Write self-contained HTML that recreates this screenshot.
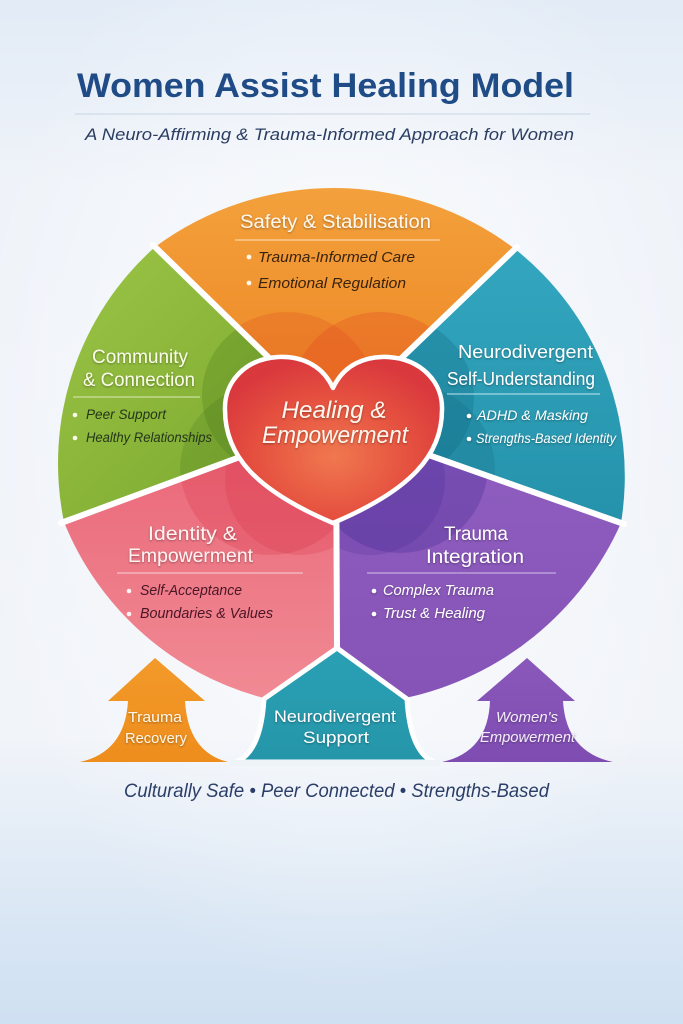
<!DOCTYPE html>
<html><head><meta charset="utf-8"><style>
html,body{margin:0;padding:0;background:#eef3f9;}
svg{display:block;}
text{font-family:"Liberation Sans",sans-serif;}
</style></head><body>
<svg width="683" height="1024" viewBox="0 0 683 1024" xmlns="http://www.w3.org/2000/svg">
<defs>
<linearGradient id="bg" x1="0" y1="0" x2="0" y2="1">
<stop offset="0" stop-color="#e2ebf6"/>
<stop offset="0.18" stop-color="#eff3f9"/>
<stop offset="0.72" stop-color="#f1f4f9"/>
<stop offset="0.8" stop-color="#e6eef7"/>
<stop offset="0.9" stop-color="#d9e6f4"/>
<stop offset="1" stop-color="#cfe0f2"/>
</linearGradient>
<radialGradient id="glow" cx="0.5" cy="0.42" r="0.55">
<stop offset="0" stop-color="#ffffff" stop-opacity="0.75"/>
<stop offset="1" stop-color="#ffffff" stop-opacity="0"/>
</radialGradient>
<linearGradient id="gO" x1="0" y1="0" x2="0" y2="1"><stop offset="0" stop-color="#f3a13c"/><stop offset="1" stop-color="#ec8422"/></linearGradient>
<linearGradient id="gG" x1="0" y1="0" x2="1" y2="1"><stop offset="0" stop-color="#9cc546"/><stop offset="1" stop-color="#76a42c"/></linearGradient>
<linearGradient id="gT" x1="0" y1="0" x2="0" y2="1"><stop offset="0" stop-color="#33a6bf"/><stop offset="1" stop-color="#2592ab"/></linearGradient>
<linearGradient id="gP" x1="0" y1="0" x2="0" y2="1"><stop offset="0" stop-color="#8f5fc0"/><stop offset="1" stop-color="#8653b6"/></linearGradient>
<linearGradient id="gK" x1="0" y1="0" x2="0" y2="1"><stop offset="0" stop-color="#ea6577"/><stop offset="1" stop-color="#f08a94"/></linearGradient>
<radialGradient id="gH" cx="0.5" cy="0.6" r="0.6"><stop offset="0" stop-color="#f0784f"/><stop offset="0.6" stop-color="#e5503f"/><stop offset="1" stop-color="#d9383d"/></radialGradient>
<linearGradient id="gAO" x1="0" y1="0" x2="0" y2="1"><stop offset="0" stop-color="#f29a2a"/><stop offset="1" stop-color="#ee8d1c"/></linearGradient>
<linearGradient id="gAT" x1="0" y1="0" x2="0" y2="1"><stop offset="0" stop-color="#2aa0b4"/><stop offset="1" stop-color="#2596aa"/></linearGradient>
<linearGradient id="gAP" x1="0" y1="0" x2="0" y2="1"><stop offset="0" stop-color="#8a57ba"/><stop offset="1" stop-color="#7f4db2"/></linearGradient>
<clipPath id="cO"><path d="M335 422 L155 247 A300 300 0 0 1 515 249 Z"/></clipPath>
<clipPath id="cT"><path d="M335 422 L515 249 A290 290 0 0 1 621 523 Z"/></clipPath>
<clipPath id="cP"><path d="M335 422 L621 523 A306 306 0 0 1 405 698 L337 649 Z"/></clipPath>
<clipPath id="cK"><path d="M335 422 L337 649 L264 698 A296 296 0 0 1 64 522 Z"/></clipPath>
<clipPath id="cG"><path d="M335 422 L64 522 A290 290 0 0 1 155 247 Z"/></clipPath>
<filter id="sh" x="-10%" y="-30%" width="120%" height="160%"><feDropShadow dx="0" dy="1" stdDeviation="1" flood-color="#000" flood-opacity="0.35"/></filter>
</defs>

<rect width="683" height="1024" fill="url(#bg)"/>
<rect width="683" height="1024" fill="url(#glow)"/>

<!-- Title -->
<text x="325.5" y="97" text-anchor="middle" font-size="34" font-weight="bold" fill="#1f4b86" textLength="497" lengthAdjust="spacingAndGlyphs">Women Assist Healing Model</text>
<line x1="75" y1="114" x2="590" y2="114" stroke="#c9d4e2" stroke-width="1"/>
<text x="329.5" y="140" text-anchor="middle" font-size="17" font-style="italic" fill="#2b3e62" textLength="489" lengthAdjust="spacingAndGlyphs">A Neuro-Affirming &amp; Trauma-Informed Approach for Women</text>

<!-- Segments -->
<path d="M335 422 L155 247 A300 300 0 0 1 515 249 Z" fill="url(#gO)"/>
<path d="M335 422 L515 249 A290 290 0 0 1 621 523 Z" fill="url(#gT)"/>
<path d="M335 422 L621 523 A306 306 0 0 1 405 698 L337 649 Z" fill="url(#gP)"/>
<path d="M335 422 L337 649 L264 698 A296 296 0 0 1 64 522 Z" fill="url(#gK)"/>
<path d="M335 422 L64 522 A290 290 0 0 1 155 247 Z" fill="url(#gG)"/>

<!-- overlay circles -->
<g clip-path="url(#cO)">
<circle cx="287" cy="402" r="90" fill="#e2501f" opacity="0.28"/>
<circle cx="380" cy="402" r="90" fill="#e2401f" opacity="0.28"/>
</g>
<g clip-path="url(#cG)">
<circle cx="282" cy="395" r="80" fill="#4f7f1c" opacity="0.3"/>
<circle cx="265" cy="470" r="85" fill="#3f6d18" opacity="0.2"/>
</g>
<g clip-path="url(#cT)">
<circle cx="392" cy="398" r="82" fill="#116a86" opacity="0.3"/>
<circle cx="410" cy="470" r="85" fill="#0f6079" opacity="0.2"/>
</g>
<g clip-path="url(#cK)">
<circle cx="270" cy="465" r="90" fill="#d83043" opacity="0.25"/>
<circle cx="300" cy="480" r="75" fill="#d82a3a" opacity="0.2"/>
</g>
<g clip-path="url(#cP)">
<circle cx="400" cy="465" r="88" fill="#3d2390" opacity="0.28"/>
<circle cx="370" cy="480" r="75" fill="#3d2390" opacity="0.18"/>
</g>

<!-- dividers -->
<g stroke="#ffffff" stroke-width="6" stroke-linecap="round" fill="none">
<line x1="335" y1="422" x2="153" y2="245"/>
<line x1="335" y1="422" x2="517" y2="247"/>
<line x1="335" y1="422" x2="624" y2="524"/>
<line x1="335" y1="422" x2="61" y2="523"/>
<line x1="336" y1="422" x2="337" y2="650"/>
</g>

<!-- Heart -->
<path d="M333 388 C322 364 300 356 278 357 C245 359 224 382 225 410 C225 455 255 490 333 523 C411 490 442 455 442 410 C443 382 421 359 388 357 C366 356 344 364 333 388 Z" fill="url(#gH)" stroke="#ffffff" stroke-width="4.5" stroke-linejoin="round"/>

<!-- Arrows -->
<path d="M155 658 L205 701 L185 701 Q188 752 228 762 L80 762 Q125 752 128 701 L108 701 Z" fill="url(#gAO)"/>
<path d="M527 658 L575 701 L563 701 Q566 752 613 762 L442 762 Q488 752 490 701 L477 701 Z" fill="url(#gAP)"/>
<path d="M337 648 L407 699 Q410 752 434 762 L236 762 Q261 752 264 699 Z" fill="url(#gAT)" stroke="#ffffff" stroke-width="5" stroke-linejoin="round"/>
<rect x="230" y="760" width="210" height="6" fill="#eef3f8"/>

<!-- Orange text -->
<g filter="url(#sh)">
<text x="335.5" y="228" text-anchor="middle" font-size="19" fill="#fff8ee" textLength="191" lengthAdjust="spacingAndGlyphs">Safety &amp; Stabilisation</text>
</g>
<line x1="235" y1="240" x2="440" y2="240" stroke="#fde3bf" stroke-width="1"/>
<circle cx="249" cy="257" r="2.4" fill="#fff6e6"/>
<circle cx="249" cy="283" r="2.4" fill="#fff6e6"/>
<text x="258" y="262" font-size="15" font-style="italic" fill="#3a230e" textLength="157" lengthAdjust="spacingAndGlyphs">Trauma-Informed Care</text>
<text x="258" y="288" font-size="15" font-style="italic" fill="#3a230e" textLength="148" lengthAdjust="spacingAndGlyphs">Emotional Regulation</text>

<!-- Green text -->
<g filter="url(#sh)">
<text x="140" y="363" text-anchor="middle" font-size="19" fill="#fbfbe9" textLength="96" lengthAdjust="spacingAndGlyphs">Community</text>
<text x="139" y="386" text-anchor="middle" font-size="19" fill="#fbfbe9" textLength="112" lengthAdjust="spacingAndGlyphs">&amp; Connection</text>
</g>
<line x1="73" y1="397" x2="200" y2="397" stroke="#dcebb8" stroke-width="1"/>
<circle cx="75" cy="415" r="2.3" fill="#fbfbe9"/>
<circle cx="75" cy="438" r="2.3" fill="#fbfbe9"/>
<text x="86" y="419" font-size="13.5" font-style="italic" fill="#25351a" textLength="80" lengthAdjust="spacingAndGlyphs">Peer Support</text>
<text x="86" y="442" font-size="13.5" font-style="italic" fill="#25351a" textLength="126" lengthAdjust="spacingAndGlyphs">Healthy Relationships</text>

<!-- Teal text -->
<g filter="url(#sh)">
<text x="525.5" y="358" text-anchor="middle" font-size="18" fill="#ffffff" textLength="135" lengthAdjust="spacingAndGlyphs">Neurodivergent</text>
<text x="521" y="385" text-anchor="middle" font-size="18" fill="#ffffff" textLength="148" lengthAdjust="spacingAndGlyphs">Self-Understanding</text>
<circle cx="469" cy="416" r="2.3" fill="#ffffff"/>
<circle cx="469" cy="439" r="2.3" fill="#ffffff"/>
<text x="477" y="420" font-size="14" font-style="italic" fill="#ffffff" textLength="111" lengthAdjust="spacingAndGlyphs">ADHD &amp; Masking</text>
<text x="476" y="443" font-size="14" font-style="italic" fill="#ffffff" textLength="140" lengthAdjust="spacingAndGlyphs">Strengths-Based Identity</text>
</g>
<line x1="447" y1="394" x2="600" y2="394" stroke="#bfe6ee" stroke-width="1"/>

<!-- Heart text -->
<g filter="url(#sh)">
<text x="334" y="418" text-anchor="middle" font-size="24" font-style="italic" fill="#fff6ee" textLength="105" lengthAdjust="spacingAndGlyphs">Healing &amp;</text>
<text x="335" y="443" text-anchor="middle" font-size="24" font-style="italic" fill="#fff6ee" textLength="146" lengthAdjust="spacingAndGlyphs">Empowerment</text>
</g>

<!-- Pink text -->
<g filter="url(#sh)">
<text x="192.5" y="540" text-anchor="middle" font-size="19" fill="#fff4f2" textLength="89" lengthAdjust="spacingAndGlyphs">Identity &amp;</text>
<text x="190.5" y="562" text-anchor="middle" font-size="19" fill="#fff4f2" textLength="125" lengthAdjust="spacingAndGlyphs">Empowerment</text>
</g>
<line x1="117" y1="573" x2="303" y2="573" stroke="#fbd3d8" stroke-width="1"/>
<circle cx="129" cy="591" r="2.3" fill="#fff4f2"/>
<circle cx="129" cy="614" r="2.3" fill="#fff4f2"/>
<text x="140" y="595" font-size="15" font-style="italic" fill="#4a1626" textLength="102" lengthAdjust="spacingAndGlyphs">Self-Acceptance</text>
<text x="140" y="618" font-size="15" font-style="italic" fill="#4a1626" textLength="133" lengthAdjust="spacingAndGlyphs">Boundaries &amp; Values</text>

<!-- Purple text -->
<g filter="url(#sh)">
<text x="476" y="540" text-anchor="middle" font-size="19" fill="#ffffff" textLength="64" lengthAdjust="spacingAndGlyphs">Trauma</text>
<text x="475" y="563" text-anchor="middle" font-size="19" fill="#ffffff" textLength="98" lengthAdjust="spacingAndGlyphs">Integration</text>
<circle cx="374" cy="591" r="2.3" fill="#ffffff"/>
<circle cx="374" cy="614" r="2.3" fill="#ffffff"/>
<text x="383" y="595" font-size="15" font-style="italic" fill="#ffffff" textLength="111" lengthAdjust="spacingAndGlyphs">Complex Trauma</text>
<text x="383" y="618" font-size="15" font-style="italic" fill="#ffffff" textLength="102" lengthAdjust="spacingAndGlyphs">Trust &amp; Healing</text>
</g>
<line x1="367" y1="573" x2="556" y2="573" stroke="#d6c2ec" stroke-width="1"/>

<!-- Arrow text -->
<g filter="url(#sh)">
<text x="155" y="722" text-anchor="middle" font-size="15" fill="#fff6e6" textLength="54" lengthAdjust="spacingAndGlyphs">Trauma</text>
<text x="156" y="743" text-anchor="middle" font-size="15" fill="#fff6e6" textLength="62" lengthAdjust="spacingAndGlyphs">Recovery</text>
<text x="335" y="722" text-anchor="middle" font-size="16.5" fill="#ffffff" textLength="122" lengthAdjust="spacingAndGlyphs">Neurodivergent</text>
<text x="336" y="743" text-anchor="middle" font-size="16.5" fill="#ffffff" textLength="66" lengthAdjust="spacingAndGlyphs">Support</text>
<text x="527" y="722" text-anchor="middle" font-size="14.5" font-style="italic" fill="#f3ecfa" textLength="62" lengthAdjust="spacingAndGlyphs">Women's</text>
<text x="527.5" y="742" text-anchor="middle" font-size="14.5" font-style="italic" fill="#f3ecfa" textLength="95" lengthAdjust="spacingAndGlyphs">Empowerment</text>
</g>

<!-- Tagline -->
<text x="336.5" y="797" text-anchor="middle" font-size="19" font-style="italic" fill="#2b3e68" textLength="425" lengthAdjust="spacingAndGlyphs">Culturally Safe • Peer Connected • Strengths-Based</text>
</svg>
</body></html>
